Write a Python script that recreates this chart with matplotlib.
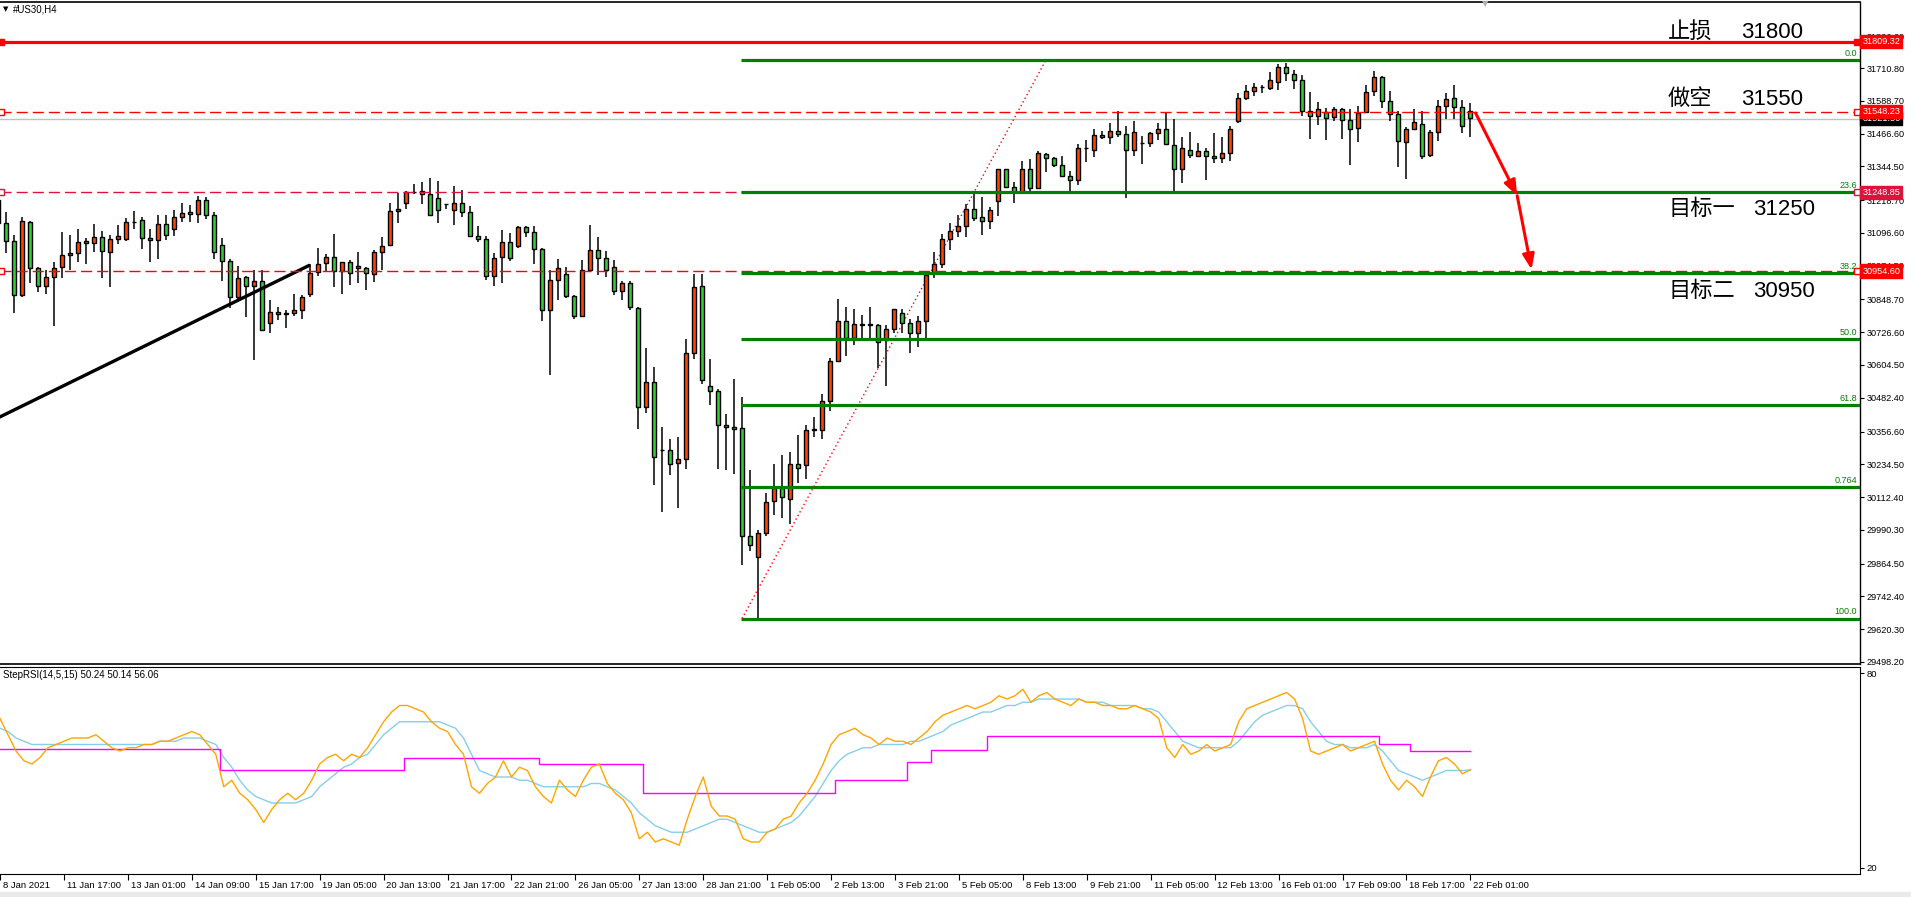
import numpy as np
import matplotlib.pyplot as plt
from matplotlib.patches import Rectangle
from matplotlib.transforms import blended_transform_factory

plt.rcParams['font.family'] = ['Liberation Sans', 'DejaVu Sans']

W, H = 1911, 897

# H4 bars of #US30, oldest first
opens = [31219, 31132, 31065, 30864, 31136, 30967, 30897, 30931, 30968, 31013,
         31020, 31065, 31058, 31080, 31024, 31073, 31073, 31137, 31143, 31076,
         31069, 31128, 31110, 31155, 31173, 31167, 31218, 31162, 31050, 30991,
         30856, 30931, 30897, 30916, 30760, 30801, 30793, 30799, 30808, 30868,
         30950, 30983, 31005, 30953, 30987, 30972, 30965, 30942, 31024, 31050,
         31177, 31207, 31248, 31251, 31240, 31225, 31205, 31181, 31207, 31173,
         31084, 31073, 30935, 31005, 31061, 31046, 31117, 31099, 31035, 30808,
         30920, 30942, 30860, 30786, 30957, 31032, 31002, 30968, 30879, 30909,
         30815, 30447, 30540, 30289, 30287, 30238, 30253, 30648, 30897, 30525,
         30506, 30380, 30372, 30368, 29966, 29888, 29977, 30097, 30146, 30107,
         30236, 30231, 30364, 30364, 30472, 30618, 30770, 30706, 30752, 30759,
         30752, 30697, 30740, 30797, 30762, 30722, 30770, 30946, 30981, 31072,
         31105, 31124, 31185, 31155, 31142, 31214, 31333, 31269, 31249, 31336,
         31262, 31389, 31375, 31348, 31308, 31292, 31412, 31407, 31463, 31452,
         31475, 31464, 31404, 31433, 31430, 31467, 31482, 31423, 31333, 31404,
         31382, 31400, 31382, 31374, 31393, 31512, 31598, 31624, 31639, 31635,
         31657, 31713, 31687, 31665, 31549, 31531, 31546, 31527, 31557, 31516,
         31486, 31546, 31624, 31676, 31587, 31538, 31434, 31482, 31501, 31385,
         31471, 31568, 31598, 31564, 31549]
highs = [31225, 31173, 31087, 31155, 31140, 30971, 30958, 30988, 31100, 31087,
         31110, 31076, 31128, 31104, 31087, 31125, 31151, 31178, 31155, 31110,
         31163, 31163, 31182, 31208, 31200, 31233, 31229, 31174, 31076, 30998,
         30972, 30937, 30958, 30957, 30845, 30820, 30808, 30868, 30864, 30979,
         31039, 31017, 31091, 30987, 30996, 31024, 30968, 31032, 31080, 31208,
         31245, 31251, 31279, 31285, 31301, 31289, 31206, 31271, 31256, 31195,
         31121, 31084, 31020, 31106, 31095, 31121, 31121, 31121, 31039, 30957,
         30998, 30968, 30864, 30994, 31125, 31080, 31028, 30994, 30916, 30916,
         30819, 30667, 30596, 30372, 30328, 30335, 30700, 30942, 30942, 30626,
         30514, 30421, 30551, 30484, 30213, 29990, 30126, 30236, 30268, 30280,
         30344, 30382, 30412, 30495, 30629, 30850, 30820, 30813, 30790, 30820,
         30759, 30752, 30812, 30813, 30777, 30787, 30953, 31024, 31092, 31132,
         31162, 31206, 31245, 31231, 31192, 31336, 31336, 31285, 31366, 31372,
         31400, 31395, 31380, 31383, 31326, 31427, 31441, 31482, 31475, 31505,
         31549, 31494, 31512, 31456, 31471, 31505, 31542, 31520, 31453, 31471,
         31430, 31412, 31467, 31453, 31494, 31616, 31646, 31654, 31646, 31696,
         31724, 31728, 31702, 31683, 31620, 31583, 31561, 31564, 31561, 31557,
         31568, 31646, 31698, 31680, 31624, 31549, 31490, 31557, 31549, 31479,
         31590, 31616, 31646, 31590, 31580]
lows = [31126, 31023, 30799, 30859, 30911, 30878, 30870, 30751, 30930, 30958,
        30989, 30982, 31025, 30930, 30896, 31055, 31065, 31112, 31038, 30989,
        31000, 31069, 31086, 31136, 31136, 31132, 31147, 30998, 30919, 30815,
        30845, 30784, 30624, 30734, 30725, 30773, 30743, 30788, 30777, 30859,
        30937, 30950, 30894, 30870, 30904, 30911, 30885, 30915, 30958, 31050,
        31135, 31184, 31240, 31203, 31158, 31132, 31187, 31125, 31155, 31080,
        31061, 30920, 30897, 30909, 30991, 31039, 31080, 30982, 30767, 30566,
        30845, 30853, 30774, 30782, 30953, 30938, 30931, 30864, 30845, 30808,
        30365, 30424, 30156, 30056, 30193, 30071, 30216, 30626, 30532, 30454,
        30216, 30212, 30197, 29858, 29913, 29662, 29966, 30047, 30033, 30013,
        30166, 30179, 30338, 30328, 30432, 30618, 30639, 30680, 30706, 30706,
        30595, 30525, 30725, 30725, 30650, 30673, 30706, 30930, 30964, 31033,
        31080, 31082, 31142, 31087, 31112, 31161, 31262, 31209, 31246, 31252,
        31260, 31325, 31343, 31306, 31252, 31275, 31359, 31380, 31446, 31426,
        31452, 31225, 31384, 31354, 31415, 31441, 31423, 31250, 31284, 31374,
        31378, 31295, 31356, 31356, 31366, 31505, 31590, 31605, 31616, 31628,
        31628, 31661, 31631, 31531, 31448, 31497, 31441, 31512, 31445, 31351,
        31434, 31546, 31605, 31561, 31512, 31341, 31296, 31479, 31371, 31378,
        31438, 31520, 31520, 31467, 31452]
closes = [31132, 31065, 30864, 31140, 30965, 30897, 30933, 30967, 31013, 31020,
          31061, 31058, 31080, 31028, 31073, 31084, 31136, 31138, 31076, 31069,
          31128, 31087, 31155, 31169, 31166, 31218, 31162, 31024, 30991, 30856,
          30927, 30897, 30916, 30734, 30801, 30793, 30799, 30808, 30856, 30946,
          30979, 31005, 30953, 30987, 30946, 30965, 30946, 31024, 31046, 31177,
          31184, 31248, 31249, 31240, 31162, 31181, 31204, 31207, 31173, 31084,
          31073, 30935, 31002, 31061, 31002, 31117, 31099, 31035, 30808, 30920,
          30965, 30860, 30786, 30957, 31032, 31002, 30957, 30879, 30909, 30819,
          30447, 30540, 30260, 30288, 30234, 30253, 30648, 30894, 30547, 30506,
          30380, 30372, 30365, 29966, 29933, 29977, 30096, 30146, 30112, 30236,
          30220, 30361, 30365, 30472, 30618, 30770, 30706, 30756, 30759, 30752,
          30689, 30740, 30812, 30762, 30722, 30770, 30938, 30981, 31072, 31105,
          31124, 31185, 31151, 31142, 31181, 31333, 31269, 31249, 31336, 31262,
          31395, 31375, 31348, 31308, 31292, 31412, 31413, 31463, 31452, 31475,
          31464, 31404, 31471, 31432, 31467, 31482, 31426, 31333, 31412, 31385,
          31400, 31382, 31374, 31393, 31482, 31598, 31624, 31639, 31640, 31665,
          31713, 31691, 31665, 31549, 31531, 31557, 31523, 31557, 31516, 31482,
          31542, 31620, 31676, 31587, 31538, 31438, 31482, 31508, 31382, 31471,
          31568, 31594, 31564, 31494, 31523]

# StepRSI(14,5,15): fast (orange), slow (light blue), step (magenta)
rsi_fast = [66, 61, 56, 53, 52, 54, 57, 58, 59, 60, 60, 60, 61, 59, 57, 56, 57, 57, 58, 58,
            59, 59, 60, 61, 62, 61, 58, 55, 45, 47, 43, 41, 38, 34, 38, 41, 43, 41, 43, 47,
            52, 54, 55, 53, 55, 54, 57, 61, 65, 68, 70, 70, 69, 68, 65, 63, 62, 58, 55, 45,
            43, 46, 48, 53, 48, 51, 50, 45, 42, 40, 47, 44, 42, 47, 51, 52, 46, 43, 41, 37,
            29, 31, 28, 29, 28, 27, 35, 42, 48, 39, 36, 36, 35, 29, 28, 28, 31, 32, 35, 36,
            40, 43, 47, 52, 58, 61, 62, 63, 61, 60, 58, 60, 59, 59, 58, 60, 62, 65, 67, 68,
            69, 70, 69, 70, 71, 73, 72, 73, 75, 71, 73, 74, 72, 71, 70, 72, 71, 71, 70, 70,
            69, 69, 70, 69, 68, 66, 57, 54, 58, 55, 56, 58, 56, 57, 58, 65, 69, 70, 71, 72,
            73, 74, 72, 66, 56, 55, 56, 57, 58, 56, 57, 58, 59, 52, 47, 44, 47, 45, 42, 48,
            53, 54, 52, 49, 50.24]
rsi_slow = [63, 62, 60, 59, 58, 58, 58, 58, 58, 58, 58, 58, 58, 58, 58, 58, 58, 58, 58, 58,
            59, 59, 59, 60, 60, 60, 59, 58, 54, 51, 47, 44, 42, 41, 40, 40, 40, 40, 41, 42,
            45, 47, 49, 51, 52, 54, 55, 58, 61, 63, 65, 65, 65, 65, 65, 65, 64, 63, 60, 55,
            50, 49, 48, 48, 48, 47, 47, 46, 45, 45, 45, 45, 45, 45, 46, 46, 45, 44, 42, 40,
            37, 35, 33, 32, 31, 31, 31, 32, 33, 34, 35, 35, 34, 33, 32, 31, 31, 32, 33, 34,
            36, 39, 42, 46, 50, 53, 55, 56, 57, 57, 58, 58, 58, 58, 59, 59, 60, 61, 62, 64,
            65, 66, 67, 68, 68, 69, 70, 70, 71, 71, 72, 72, 72, 72, 72, 72, 71, 71, 71, 70,
            70, 70, 70, 69, 69, 68, 65, 62, 59, 58, 57, 57, 57, 57, 57, 59, 62, 65, 67, 68,
            69, 70, 70, 69, 65, 62, 59, 58, 58, 57, 57, 57, 58, 56, 53, 50, 49, 48, 47, 48,
            49, 50, 50, 50, 50.14]
rsi_step = [56.7] * 28 + [50.0] * 23 + [53.7] * 17 + [51.9] * 13 + [43.2] * 24 \
    + [47.0] * 9 + [52.6] * 3 + [56.4] * 7 + [60.5] * 49 + [58.2] * 4 + [56.06] * 8

date_labels = ["8 Jan 2021", "11 Jan 17:00", "13 Jan 01:00", "14 Jan 09:00", "15 Jan 17:00",
               "19 Jan 05:00", "20 Jan 13:00", "21 Jan 17:00", "22 Jan 21:00", "26 Jan 05:00",
               "27 Jan 13:00", "28 Jan 21:00", "1 Feb 05:00", "2 Feb 13:00", "3 Feb 21:00",
               "5 Feb 05:00", "8 Feb 13:00", "9 Feb 21:00", "11 Feb 05:00", "12 Feb 13:00",
               "16 Feb 01:00", "17 Feb 09:00", "18 Feb 17:00", "22 Feb 01:00"]
price_ticks = [31826.60, 31710.80, 31588.70, 31466.60, 31344.50, 31218.70, 31096.60,
               30974.50, 30848.70, 30726.60, 30604.50, 30482.40, 30356.60, 30234.50,
               30112.40, 29990.30, 29864.50, 29742.40, 29620.30, 29498.20]

# fibonacci retracement drawn from bar 93 (low) to bar 131 (high)
fib_levels = [31741, 31250, 30946, 30700, 30455, 30151, 29660]
fib_names = ["0.0", "23.6", "38.2", "50.0", "61.8", "0.764", "100.0"]
fib_start = 93
fib_anchor = [(93, 29660), (131, 31741)]

# trend line and trade levels
trend_pts = [(-1, 30393), (39, 30977)]
stop_level = 31809.32
entry_level = 31548.23
bid_level = 31521.50
target1 = 31248.85
target2 = 30954.60
arrow_pts = [(184.7, 31543), (189.9, 31235), (191.7, 30960)]

notes = [("止损", "31800", 30), ("做空", "31550", 97), ("目标一", "31250", 207), ("目标二", "30950", 289)]

BULL = '#FF4500'
BEAR = '#32CD32'

fig = plt.figure(figsize=(W / 100, H / 100), dpi=100)
fig.patch.set_facecolor('white')
fig.patches.append(Rectangle((0, 0), 1, 5 / H, transform=fig.transFigure, color='#EAEAEA', zorder=0))

ax = fig.add_axes([0, 1 - 664 / H, 1860 / W, 662 / H])
ax2 = fig.add_axes([0, 1 - 874 / H, 1860 / W, 207 / H])

idx = np.arange(len(opens))
o = np.array(opens, float)
c = np.array(closes, float)
hi = np.array(highs, float)
lo = np.array(lows, float)

# candles
ax.vlines(idx, lo, hi, color='black', lw=1.1, zorder=2)
up = c >= o
body_bot = np.minimum(o, c)
body_h = np.maximum(np.abs(c - o), 0.8)
cols = np.where(up, BULL, BEAR)
ax.bar(idx, body_h, bottom=body_bot, width=0.62, color=cols, edgecolor='black', lw=1.0, zorder=3)

ymin, ymax = 29490.7, 31956.7
xmin, xmax = 0.25, 232.75
ax.set_xlim(xmin, xmax)
ax.set_ylim(ymin, ymax)

# black trend line
ax.plot([p[0] for p in trend_pts], [p[1] for p in trend_pts], color='black', lw=2.4, zorder=4,
        solid_capstyle='butt')

# fibonacci
for lev, name in zip(fib_levels, fib_names):
    ax.plot([fib_start - 0.1, xmax], [lev, lev], color='#008000', lw=2.3, zorder=5, solid_capstyle='butt')
    ax.text(232.4, lev + 8, name, color='#008000', fontsize=6.5, ha='right', va='bottom', zorder=6)
ax.plot([fib_anchor[0][0], fib_anchor[1][0]], [fib_anchor[0][1], fib_anchor[1][1]],
        color='red', lw=1, ls=(0, (1, 2)), zorder=5)

# trade levels
ax.axhline(stop_level, color='#FF0000', lw=2.3, zorder=6)
ax.axhline(bid_level, color='#C0C0C0', lw=1, zorder=1)
for lev, colr in [(entry_level, '#FF0000'), (target1, '#DC143C'), (target2, '#FF0000')]:
    ax.axhline(lev, color=colr, lw=1, ls=(0, (8, 3.6)), zorder=4)
    ax.plot([0.4, 232.4], [lev, lev], ls='none', marker='s', ms=4.5, mfc='white', mec=colr, mew=1, zorder=7,
            clip_on=False)
ax.plot([0.4, 232.4], [stop_level, stop_level], ls='none', marker='s', ms=5, color='#FF0000', zorder=7,
        clip_on=False)

# arrows
for a, b in zip(arrow_pts[:-1], arrow_pts[1:]):
    ax.annotate('', xy=b, xytext=a, zorder=8,
                arrowprops=dict(arrowstyle='-|>,head_length=0.9,head_width=0.35', color='#FF0000', lw=2.2,
                                shrinkA=0, shrinkB=0))

# chinese notes
for cn, num, ypx in notes:
    fig.text(1668 / W, 1 - (ypx + 8) / H, cn, fontsize=16, family=['Noto Sans CJK SC', 'DejaVu Sans'],
             ha='left', va='baseline', color='black')
    fig.text((1741 if len(cn) == 2 else 1753) / W, 1 - (ypx + 8) / H, num, fontsize=16,
             ha='left', va='baseline', color='black')

# right price axis
ax.yaxis.tick_right()
ax.set_yticks(price_ticks)
ax.set_yticklabels(['%.2f' % v for v in price_ticks])
ax.tick_params(axis='y', direction='out', length=3, labelsize=6.6, pad=2, width=0.8)
ax.set_xticks([])
ax.spines['left'].set_visible(False)
ax.spines['top'].set_linewidth(1.2)
ax.spines['right'].set_linewidth(1)
ax.spines['bottom'].set_linewidth(1.2)

tr = blended_transform_factory(ax.transAxes, ax.transData)
for lev, txt, colr, z in [(stop_level, '31809.32', '#FF0000', 10), (bid_level, '31521.50', 'black', 9),
                          (entry_level, '31548.23', '#FF0000', 10), (target1, '31248.85', '#DC143C', 10),
                          (target2, '30954.60', '#FF0000', 10)]:
    ax.text(1.0012, lev, txt, transform=tr, color='white', fontsize=6.6, ha='left', va='center', zorder=z,
            clip_on=False, bbox=dict(boxstyle='square,pad=0.22', fc=colr, ec=colr))

fig.text(3 / W, 1 - 9 / H, '▼', fontsize=5, va='center', ha='left', family='DejaVu Sans')
fig.text(13 / W, 1 - 9 / H, '#US30,H4', fontsize=7, va='center', ha='left')
fig.text(1485 / W, 1 - 4 / H, '▼', fontsize=6, va='center', ha='center', color='#B0B0B0', family='DejaVu Sans')

# RSI pane
ax2.plot(idx, rsi_step, color='#FF00FF', lw=1, drawstyle='steps-mid', zorder=3)
ax2.plot(idx, rsi_slow, color='#87CEEB', lw=1, zorder=2)
ax2.plot(idx, rsi_fast, color='#FFA500', lw=1, zorder=4)
ax2.set_xlim(xmin, xmax)
ax2.set_ylim(18.15, 81.85)
ax2.yaxis.tick_right()
ax2.set_yticks([20, 80])
ax2.set_yticklabels(['20', '80'])
ax2.tick_params(axis='y', direction='out', length=3, labelsize=6.8, pad=2)
ax2.spines['left'].set_visible(False)
ax2.text(0.0015, 0.96, 'StepRSI(14,5,15) 50.24 50.14 56.06', transform=ax2.transAxes, fontsize=7,
         ha='left', va='center')

tick_pos = np.arange(0, len(opens), 8)
ax2.set_xticks(tick_pos)
ax2.set_xticklabels([])
ax2.tick_params(axis='x', direction='out', length=4, width=0.8)
trx = blended_transform_factory(ax2.transData, ax2.transAxes)
for p, lab in zip(tick_pos, date_labels):
    ax2.text(p + 0.35, -0.035, lab, transform=trx, fontsize=6.8, ha='left', va='top', clip_on=False)

fig.savefig('out.png', dpi=100)
